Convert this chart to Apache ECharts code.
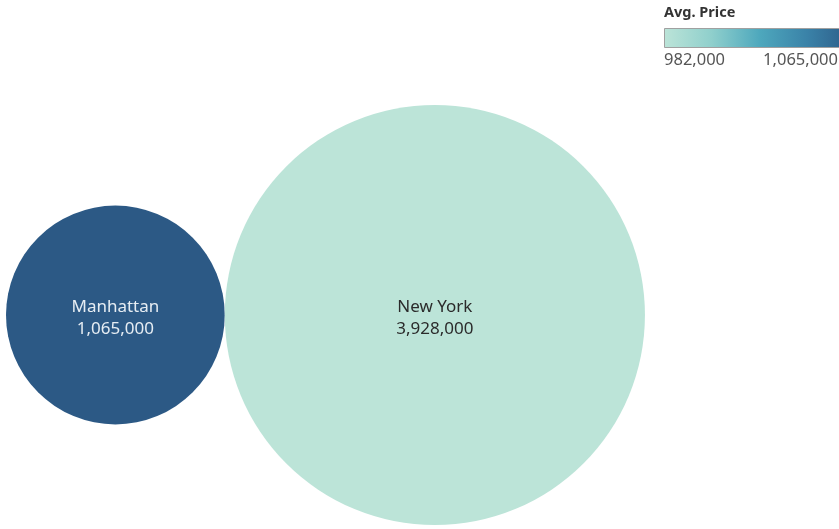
<!DOCTYPE html>
<html>
<head>
<meta charset="utf-8">
<script src="https://cdn.jsdelivr.net/npm/echarts@6/dist/echarts.min.js"></script>
<style>
  html, body { margin: 0; padding: 0; background: #ffffff; }
  #chart { width: 839px; height: 529px; }
</style>
</head>
<body>
<div id="chart"></div>
<script>
// City bubbles: size = total price, colour = average price
const cities = ['Manhattan', 'New York'];
const sumPrice = [1065000, 3928000];
const avgPrice = [1065000, 982000];
const legendTitle = 'Avg. Price';
const colorDomain = [982000, 1065000];
const blueTeal = ['#bce4d8', '#8fcfcc', '#4ea8bd', '#3a82a8', '#2c5985'];

const fmt = v => v.toLocaleString('en-US');
const W = 839, H = 529;
const k = 0.212;                      // diameter per sqrt(value)
const diam = v => k * Math.sqrt(v);

// Pack the bubbles side by side, tangent, on one row
const rowY = 315;
let cursor = 6;
const points = cities.map((name, i) => {
  const r = diam(sumPrice[i]) / 2;
  const cx = cursor + r;
  cursor += 2 * r;
  const dark = avgPrice[i] > (colorDomain[0] + colorDomain[1]) / 2;
  return {
    name,
    value: [cx, rowY, sumPrice[i], avgPrice[i]],
    label: { color: dark ? '#e6edf3' : '#2b2b2b' }
  };
});

const chart = echarts.init(document.getElementById('chart'), null, { renderer: 'canvas' });
chart.setOption({
  backgroundColor: '#ffffff',
  animation: false,
  grid: { left: 0, right: 0, top: 0, bottom: 0 },
  xAxis: { type: 'value', min: 0, max: W, show: false },
  yAxis: { type: 'value', min: 0, max: H, inverse: true, show: false },
  visualMap: {
    show: false,
    type: 'continuous',
    dimension: 3,
    min: colorDomain[0],
    max: colorDomain[1],
    inRange: { color: blueTeal }
  },
  series: [{
    type: 'scatter',
    data: points,
    symbol: 'circle',
    symbolSize: val => diam(val[2]),
    itemStyle: { opacity: 1 },
    label: {
      show: true,
      position: 'inside',
      offset: [0, 3],
      fontFamily: 'Noto Sans',
      fontSize: 17,
      lineHeight: 22,
      align: 'center',
      formatter: p => p.name + '\n' + fmt(p.value[2])
    },
    emphasis: { disabled: true }
  }],
  graphic: [
    {
      type: 'text', left: 664, top: 5,
      style: { text: legendTitle, font: 'bold 14.5px "Noto Sans"', fill: '#333333' }
    },
    {
      type: 'rect', left: 664, top: 28,
      shape: { width: 190, height: 19 },
      style: {
        fill: new echarts.graphic.LinearGradient(0, 0, 1, 0,
          blueTeal.map((c, i) => ({ offset: i / (blueTeal.length - 1), color: c }))),
        stroke: '#a0a0a0', lineWidth: 1
      }
    },
    {
      type: 'text', left: 664, top: 52,
      style: { text: fmt(colorDomain[0]), font: '16.5px "Noto Sans"', fill: '#555555' }
    },
    {
      type: 'text', right: 1, top: 52,
      style: { text: fmt(colorDomain[1]), font: '16.5px "Noto Sans"', fill: '#555555' }
    }
  ]
});
</script>
</body>
</html>
